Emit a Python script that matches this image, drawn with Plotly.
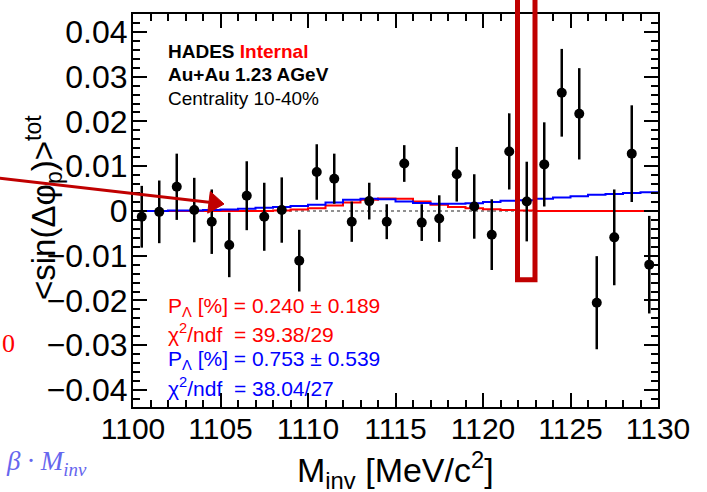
import plotly.graph_objects as go

# ---------------- data ----------------
mass = [1100.5, 1101.5, 1102.5, 1103.5, 1104.5, 1105.5, 1106.5, 1107.5, 1108.5, 1109.5,
        1110.5, 1111.5, 1112.5, 1113.5, 1114.5, 1115.5, 1116.5, 1117.5, 1118.5, 1119.5,
        1120.5, 1121.5, 1122.5, 1123.5, 1124.5, 1125.5, 1126.5, 1127.5, 1128.5, 1129.5]
sin_dphi = [-0.0013, -0.0002, 0.0054, 0.0002, -0.0024, -0.0076, 0.0034, -0.0013, 0.0002, -0.0111,
            0.0087, 0.0072, -0.0024, 0.0022, -0.0024, 0.0106, -0.0026, -0.0017, 0.0082, 0.0010,
            -0.0053, 0.0133, 0.0021, 0.0104, 0.0264, 0.0217, -0.0205, -0.0059, 0.0128, -0.0120]
sin_err = [0.0069, 0.0070, 0.0074, 0.0072, 0.0072, 0.0072, 0.0077, 0.0076, 0.0073, 0.0069,
           0.0062, 0.0056, 0.0045, 0.0041, 0.0039, 0.0041, 0.0041, 0.0052, 0.0061, 0.0072,
           0.0079, 0.0085, 0.0089, 0.0094, 0.0098, 0.0102, 0.0104, 0.0107, 0.0108, 0.0109]

edges = [1100, 1101, 1102, 1103, 1104, 1105, 1106, 1107, 1108, 1109, 1110,
         1111, 1112, 1113, 1114, 1115, 1116, 1117, 1118, 1119, 1120,
         1121, 1122, 1123, 1124, 1125, 1126, 1127, 1128, 1129, 1130]
fit_red = [0.0000, 0.0000, 0.0000, 0.0000, 0.0000, 0.0000, 0.0000, 0.0000, 0.0001, 0.0003,
           0.0006, 0.0012, 0.0019, 0.0025, 0.0028, 0.0027, 0.0021, 0.0014, 0.0009, 0.0006,
           0.0004, 0.0002, 0.0001, 0.0000, 0.0000, 0.0000, 0.0000, 0.0000, 0.0000, 0.0000, 0.0000]
fit_blue = [0.0000, 0.0000, 0.0001, 0.0001, 0.0002, 0.0003, 0.0005, 0.0007, 0.0009, 0.0011,
            0.0014, 0.0019, 0.0025, 0.0027, 0.0026, 0.0021, 0.0018, 0.0016, 0.0016, 0.0017,
            0.0020, 0.0023, 0.0024, 0.0027, 0.0030, 0.0033, 0.0036, 0.0038, 0.0040, 0.0042, 0.0042]

x_ticks = [1100, 1105, 1110, 1115, 1120, 1125, 1130]
y_ticks = [-0.04, -0.03, -0.02, -0.01, 0, 0.01, 0.02, 0.03, 0.04]
y_tick_text = ["\u22120.04", "\u22120.03", "\u22120.02", "\u22120.01", "0", "0.01", "0.02", "0.03", "0.04"]

label_lines = ["<b>HADES <span style='color:#ff0000'>Internal</span></b>",
               "<b>Au+Au 1.23 AGeV</b>",
               "Centrality 10-40%"]
fit_lines = ["P<sub>\u039b</sub> [%] = 0.240 \u00b1 0.189",
             "\u03c7<sup>2</sup>/ndf \u00a0= 39.38/29",
             "P<sub>\u039b</sub> [%] = 0.753 \u00b1 0.539",
             "\u03c7<sup>2</sup>/ndf \u00a0= 38.04/27"]
fit_colors = ["#ff0000", "#ff0000", "#0000ff", "#0000ff"]

# ---------------- layout geometry ----------------
W, H = 707, 492
L, R, T, B = 133, 49, 12, 85
PW, PH = W - L - R, H - T - B
FONT = "Liberation Sans, Arial, Helvetica, sans-serif"


def pxx(x):
    return (x - L) / PW


def pxy(y):
    return (H - B - y) / PH


fig = go.Figure()

fig.add_trace(go.Scatter(x=[x_ticks[0], x_ticks[-1]], y=[0, 0], mode="lines",
                         line=dict(color="#909090", width=2, dash="dot"),
                         hoverinfo="skip", showlegend=False))
fig.add_trace(go.Scatter(x=edges, y=fit_red, mode="lines", line_shape="hv",
                         line=dict(color="#ff0000", width=2), showlegend=False))
fig.add_trace(go.Scatter(x=edges, y=fit_blue, mode="lines", line_shape="hv",
                         line=dict(color="#0000ff", width=2), showlegend=False))
fig.add_trace(go.Scatter(x=mass, y=sin_dphi, mode="markers",
                         marker=dict(color="black", size=10),
                         error_y=dict(type="data", array=sin_err, color="black",
                                      thickness=2.5, width=0),
                         showlegend=False))

axis_common = dict(ticks="inside", showline=True, linecolor="black", linewidth=2,
                   mirror="ticks", showgrid=False, zeroline=False,
                   tickcolor="black", tickwidth=1.5)

fig.update_xaxes(range=[1100, 1130], tickvals=x_ticks, ticklen=14,
                 tickfont=dict(family=FONT, size=30, color="black"), ticklabelstandoff=-6,
                 minor=dict(ticks="inside", dtick=1, tick0=1100, ticklen=7,
                            tickcolor="black", tickwidth=1.5),
                 **axis_common)
fig.update_yaxes(range=[-0.0438, 0.0440], tickvals=y_ticks, ticktext=y_tick_text, ticklen=14,
                 tickfont=dict(family=FONT, size=32, color="black"), ticklabelstandoff=-3,
                 minor=dict(ticks="inside", dtick=0.002, tick0=0, ticklen=7,
                            tickcolor="black", tickwidth=1.5),
                 **axis_common)

ann = []
# HADES labels
for txt, yy in zip(label_lines, [50, 73, 97]):
    ann.append(dict(text=txt, x=pxx(166), y=pxy(yy), xref="paper", yref="paper",
                    xanchor="left", yanchor="middle", showarrow=False,
                    font=dict(family=FONT, size=19, color="black")))
# fit results
for txt, col, yy in zip(fit_lines, fit_colors, [306, 333, 360, 387]):
    ann.append(dict(text=txt, x=pxx(166), y=pxy(yy), xref="paper", yref="paper",
                    xanchor="left", yanchor="middle", showarrow=False,
                    font=dict(family=FONT, size=21, color=col)))
# axis titles
ann.append(dict(text="&lt;sin(\u0394\u03c6<sub>p</sub>)&gt;<sup>tot</sup>", textangle=-90,
                x=pxx(43), y=pxy(207), xref="paper", yref="paper",
                xanchor="center", yanchor="middle", showarrow=False,
                font=dict(family=FONT, size=33, color="black")))
ann.append(dict(text="M<sub>inv</sub> [MeV/c<sup>2</sup>]",
                x=0.5, y=pxy(444), xref="paper", yref="paper",
                xanchor="center", yanchor="top", showarrow=False,
                font=dict(family=FONT, size=34, color="black")))
# overlay texts
ann.append(dict(text="0", x=pxx(8), y=pxy(343), xref="paper", yref="paper",
                xanchor="center", yanchor="middle", showarrow=False,
                font=dict(family="Liberation Serif, serif", size=26, color="#ff0000")))
ann.append(dict(text="<i>\u03b2 \u00b7 M<sub>inv</sub></i>", x=pxx(4), y=pxy(463),
                xref="paper", yref="paper", xanchor="left", yanchor="middle", showarrow=False,
                font=dict(family="Liberation Serif, DejaVu Serif, serif", size=27, color="#6666ee")))

# arrow (line + head) and highlight box
DR = "#c00000"
tail = (-5, 176.5)
tip = (224, 203)
base = (209, 201.3)
c1 = (210.3, 190.4)
c2 = (207.7, 212.2)
shapes = [
    dict(type="line", xref="paper", yref="paper",
         x0=pxx(tail[0]), y0=pxy(tail[1]), x1=pxx(base[0]), y1=pxy(base[1]),
         line=dict(color=DR, width=3)),
    dict(type="path", xref="paper", yref="paper",
         path="M {} {} L {} {} L {} {} Z".format(pxx(tip[0]), pxy(tip[1]), pxx(c1[0]), pxy(c1[1]),
                                                   pxx(c2[0]), pxy(c2[1])),
         fillcolor=DR, line=dict(color=DR, width=1)),
    dict(type="rect", xref="paper", yref="paper",
         x0=pxx(517.5), x1=pxx(535), y0=pxy(279.2), y1=pxy(-20),
         line=dict(color=DR, width=5), fillcolor="rgba(0,0,0,0)"),
]

fig.update_layout(width=W, height=H, margin=dict(l=L, r=R, t=T, b=B),
                  paper_bgcolor="white", plot_bgcolor="white",
                  annotations=ann, shapes=shapes, showlegend=False,
                  font=dict(family=FONT))

fig.write_html("out.html", config={"displayModeBar": False},
               post_script="document.body.style.margin='0';document.body.style.overflow='hidden';")
